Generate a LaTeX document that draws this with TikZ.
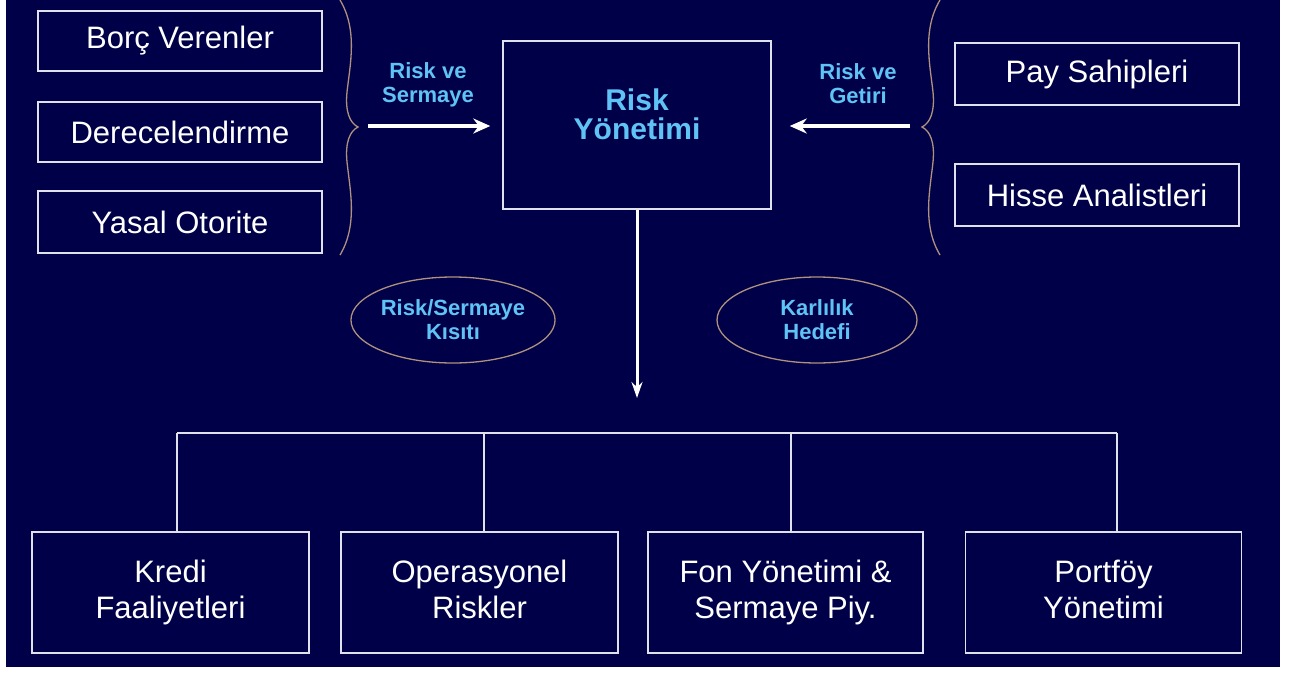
\documentclass[tikz,border=0pt]{standalone}
\usepackage{fontspec}
\setmainfont{Liberation Sans}
\usetikzlibrary{arrows.meta,shapes.geometric,positioning}

\definecolor{navy}{RGB}{0,0,72}
\definecolor{boxline}{RGB}{225,225,235}
\definecolor{skyblue}{RGB}{95,195,245}
\definecolor{tan}{RGB}{175,145,125}

\tikzset{
    partybox/.style={draw=boxline, line width=1.5pt, text=white, inner sep=0pt,
        minimum width=284pt, font=\fontsize{31}{34}\selectfont},
    unitbox/.style={draw=boxline, line width=1.5pt, text=white, inner sep=0pt, align=center,
        minimum height=121pt, font=\fontsize{31}{36}\selectfont,
        execute at end node={\rule[-6.5pt]{0pt}{0pt}}},
    bluelbl/.style={text=skyblue, align=center, font=\bfseries\fontsize{22}{24}\selectfont},
    goal/.style={ellipse, draw=tan, line width=1.3pt, minimum width=200pt, minimum height=86pt,
        inner sep=0pt, text=skyblue, align=center, font=\bfseries\fontsize{22}{24}\selectfont},
    flow/.style={white, line width=4pt, -{Stealth[length=17pt,width=15pt]}},
    wire/.style={boxline, line width=1.5pt}
}

\begin{document}
\begin{tikzpicture}[x=1pt,y=-1pt]
    % page, dark ground
    \useasboundingbox (0,0) rectangle (1301,675);
    \fill[white] (0,0) rectangle (1301,675);
    \fill[navy] (6,0) rectangle (1280,667);

    % parties on the left
    \node[partybox, minimum height=60pt] (borc) at (180,41) {Borç Verenler};
    \node[partybox, minimum height=60pt] (derece) at (180,132) {Derecelendirme};
    \node[partybox, minimum height=62pt] (yasal) at (180,222) {Yasal Otorite};

    % parties on the right
    \node[partybox, minimum height=62pt] (pay) at (1097,74) {Pay Sahipleri};
    \node[partybox, minimum height=62pt] (hisse) at (1097,195) {Hisse Analistleri};

    % braces
    \draw[tan, line width=1.3pt] (340,0) .. controls (358,30) and (350,65) .. (347,92)
        .. controls (345,112) and (350,123) .. (358,127)
        .. controls (350,131) and (345,142) .. (347,162)
        .. controls (350,190) and (358,225) .. (340,255);
    \draw[tan, line width=1.3pt] (940,0) .. controls (922,30) and (930,65) .. (933,92)
        .. controls (935,112) and (930,123) .. (922,127)
        .. controls (930,131) and (935,142) .. (933,162)
        .. controls (930,190) and (922,225) .. (940,255);

    % risk management in the middle
    \node[draw=boxline, line width=1.5pt, minimum width=268pt, minimum height=168pt] (risk) at (637,125) {};
    \node[text=skyblue, align=center, font=\bfseries\fontsize{30}{29}\selectfont] (risktxt)
        at (risk.center) [yshift=11pt] {Risk\\Yönetimi};

    % inputs from both sides
    \coordinate (lin) at (368,126);
    \coordinate (rin) at (910,126);
    \draw[flow, shorten >=12pt] (lin) -- (risk.west |- lin);
    \draw[flow, shorten >=18pt] (rin) -- (risk.east |- rin);
    \node[bluelbl] (lintxt) at (428,85) {Risk ve\\Sermaye};
    \node[bluelbl] (rintxt) at (858,84) {Risk ve\\Getiri};

    % constraints
    \node[goal] (kisit) at (453,320) {Risk/Sermaye\\Kısıtı};
    \node[goal] (hedef) at (817,320) {Karlılık\\Hedefi};

    % down to the units
    \coordinate (down) at (637,398);
    \draw[white, line width=3pt, -{Stealth[length=16pt,width=11pt]}] (risk.south) -- (down);

    % business units
    \node[unitbox, minimum width=277pt] (kredi) at (170.5,592.5) {Kredi\\Faaliyetleri};
    \node[unitbox, minimum width=277pt] (oper) at (479.5,592.5) {Operasyonel\\Riskler};
    \node[unitbox, minimum width=275pt] (fon) at (785.5,592.5) {Fon Yönetimi \&\\Sermaye Piy.};
    \node[unitbox, minimum width=276pt] (port) at (1103.5,592.5) {Portföy\\Yönetimi};

    % bus line
    \coordinate (b1) at (177,433);
    \coordinate (b2) at (484,433);
    \coordinate (b3) at (791,433);
    \coordinate (b4) at (1117,433);
    \draw[wire] (b1) -- (b4);
    \draw[wire] (b1) -- (b1 |- kredi.north);
    \draw[wire] (b2) -- (b2 |- oper.north);
    \draw[wire] (b3) -- (b3 |- fon.north);
    \draw[wire] (b4) -- (b4 |- port.north);
\end{tikzpicture}
\end{document}
